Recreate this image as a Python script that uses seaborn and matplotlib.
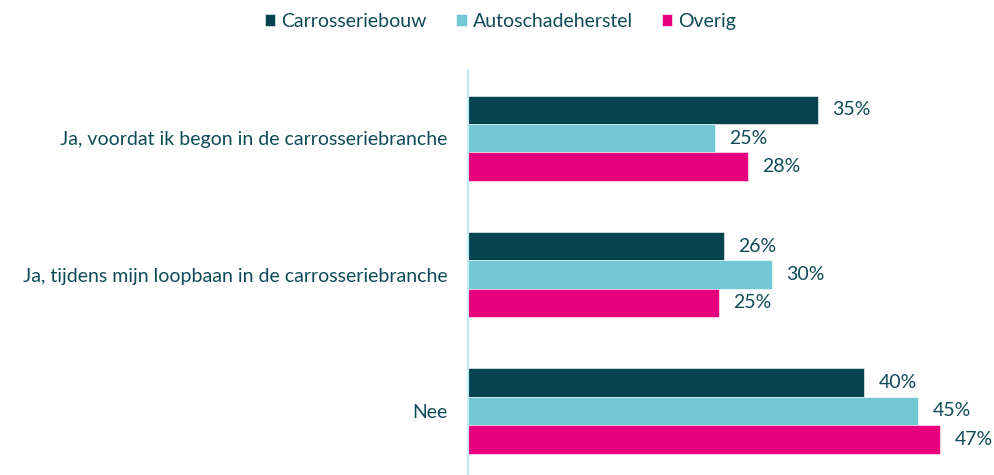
import matplotlib
matplotlib.use("Agg")
import matplotlib.pyplot as plt
import pandas as pd
import seaborn as sns

categories = [
    "Ja, voordat ik begon in de carrosseriebranche",
    "Ja, tijdens mijn loopbaan in de carrosseriebranche",
    "Nee",
]
series = ["Carrosseriebouw", "Autoschadeherstel", "Overig"]
# labels show rounded values
carrosseriebouw = [35.0, 25.6, 39.6]
autoschadeherstel = [24.7, 30.4, 45.0]
overig = [28.0, 25.1, 47.2]

colors = ["#06434F", "#74C7D5", "#E6007E"]
text_color = "#0E4B57"

rows = []
for name, vals in zip(series, [carrosseriebouw, autoschadeherstel, overig]):
    for cat, v in zip(categories, vals):
        rows.append({"categorie": cat, "reeks": name, "waarde": v})
df = pd.DataFrame(rows)

sns.set_style("white")
plt.rcParams["font.family"] = ["Lato", "DejaVu Sans"]

fig = plt.figure(figsize=(9.95, 4.75), dpi=100)
ax = fig.add_axes([468 / 995, 0, 527 / 995, 405 / 475])

sns.barplot(data=df, y="categorie", x="waarde", hue="reeks", order=categories,
            hue_order=series, palette=colors, saturation=1, width=0.625,
            orient="h", edgecolor="white", linewidth=0.4, ax=ax)

for cont in ax.containers:
    ax.bar_label(cont, labels=[f"{round(v)}%" for v in cont.datavalues],
                 padding=10.5, fontsize=14, color=text_color)

ax.set_xlim(0, 52.7)
ax.set_ylim(2.47, -0.5)
ax.set_xlabel("")
ax.set_ylabel("")
ax.set_xticks([])
ax.tick_params(axis="y", length=0, pad=15, labelsize=14, labelcolor=text_color)
for s in ["top", "right", "bottom"]:
    ax.spines[s].set_visible(False)
ax.spines["left"].set_color("#C6EDF4")
ax.spines["left"].set_linewidth(1.5)

handles, labels = ax.get_legend_handles_labels()
ax.legend_.remove()
leg = fig.legend(handles, labels, loc="upper center", bbox_to_anchor=(0.503, 1.01),
                 ncol=3, frameon=False, fontsize=14, handlelength=0.55,
                 handleheight=0.55, handletextpad=0.3, columnspacing=1.5)
for t in leg.get_texts():
    t.set_color(text_color)

fig.savefig("out.png", dpi=100)
